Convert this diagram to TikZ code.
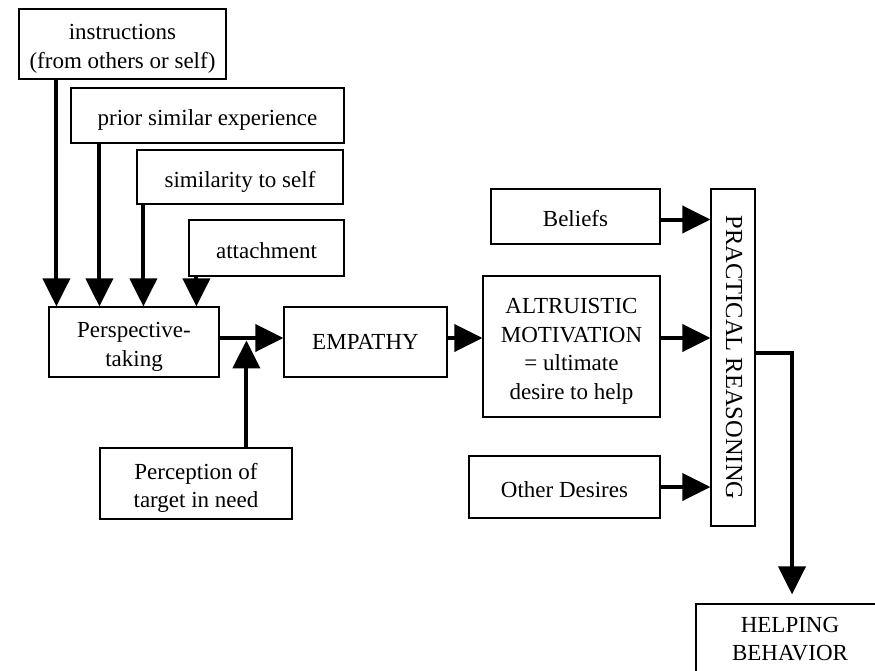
\documentclass[tikz,border=0pt]{standalone}
\usepackage{fontspec}
\setmainfont{Liberation Serif}
\usetikzlibrary{arrows.meta,calc}

% centred lines of box text, drawn a little below the box's middle
% without changing the size TikZ sees
\newcommand\boxtext[2][-4.5pt]{\raisebox{#1}[\height][\depth]{%
  \begin{tabular}{@{}c@{}}#2\end{tabular}}}

\begin{document}
\begin{tikzpicture}[x=1pt,y=-1pt,
  box/.style={draw, line width=1.2pt, inner sep=0pt,
    font=\fontsize{23}{28.5}\selectfont},
  arr/.style={line width=4pt, -{Triangle[length=28pt,width=27pt]}}]
\useasboundingbox (0,0) rectangle (875,671);

% antecedent boxes, stacked from top left
\node[box, minimum width=207, minimum height=70] (instr) at (122.5,44)
  {\boxtext{instructions\\(from others or self)}};
\node[box, minimum width=273, minimum height=55] (prior) at (207.5,115.5)
  {\boxtext{prior similar experience}};
\node[box, minimum width=206, minimum height=54] (simil) at (240,177)
  {\boxtext{similarity to self}};
\node[box, minimum width=155, minimum height=56] (attach) at (266.5,248)
  {\boxtext{attachment}};

% main chain
\node[box, minimum width=170, minimum height=70] (persp) at (134,342)
  {\boxtext{Perspective-\\taking}};
\node[box, minimum width=163, minimum height=70] (emp) at (365.5,342)
  {\boxtext[-2pt]{EMPATHY}};
\node[box, minimum width=192, minimum height=71] (percep) at (196,483.5)
  {\boxtext{Perception of\\target in need}};
\node[box, minimum width=177, minimum height=141] (altru) at (571.5,346.5)
  {\boxtext{ALTRUISTIC\\MOTIVATION\\= ultimate\\desire to help}};
\node[box, minimum width=169, minimum height=55] (beliefs) at (575.5,216.5)
  {\boxtext{Beliefs}};
\node[box, minimum width=191, minimum height=62] (other) at (564.5,487)
  {\boxtext{Other Desires}};

% practical reasoning column with vertical caption
\node[box, minimum width=44, minimum height=337] (pr) at (733,357.5) {};
\node[rotate=-90, inner sep=0pt, font=\fontsize{24.5}{28}\selectfont] (prtext)
  at ([xshift=1pt]pr.center) {PRACTICAL REASONING};

% outcome, running off the page edge
\node[box, minimum width=188, minimum height=74] (help) at (790,641)
  {\boxtext[0pt]{HELPING\\BEHAVIOR}};

% antecedents into perspective-taking
\draw[arr] ([xshift=38pt]instr.south west) -- ([xshift=38pt]instr.south west |- persp.north);
\draw[arr] ([xshift=29pt]prior.south west) -- ([xshift=29pt]prior.south west |- persp.north);
\draw[arr] ([xshift=7pt]simil.south west) -- ([xshift=7pt]simil.south west |- persp.north);
\draw[arr] ([xshift=8pt]attach.south west) -- ([xshift=8pt]attach.south west |- persp.north);

% perspective-taking and perception of need into empathy
\draw[arr] ([yshift=4pt]persp.east) -- ([yshift=4pt]emp.west);
\coordinate (join) at ($(percep.north west)+(147,-107)$);
\draw[arr] ([xshift=147pt]percep.north west) -- (join);

% empathy into altruistic motivation
\draw[arr] ([yshift=4pt]emp.east) -- ([yshift=4pt]emp.east -| altru.west);

% inputs into practical reasoning
\draw[arr] ([yshift=-3pt]beliefs.east) -- ([yshift=-3pt]beliefs.east -| pr.west);
\draw[arr] ([yshift=8.5pt]altru.east) -- ([yshift=8.5pt]altru.east -| pr.west);
\draw[arr] (other.east) -- (other.east -| pr.west);

% practical reasoning to helping behaviour
\draw[arr, shorten >=9pt] ([yshift=4.5pt]pr.east) -| ([xshift=2pt]help.north);
\end{tikzpicture}
\end{document}
